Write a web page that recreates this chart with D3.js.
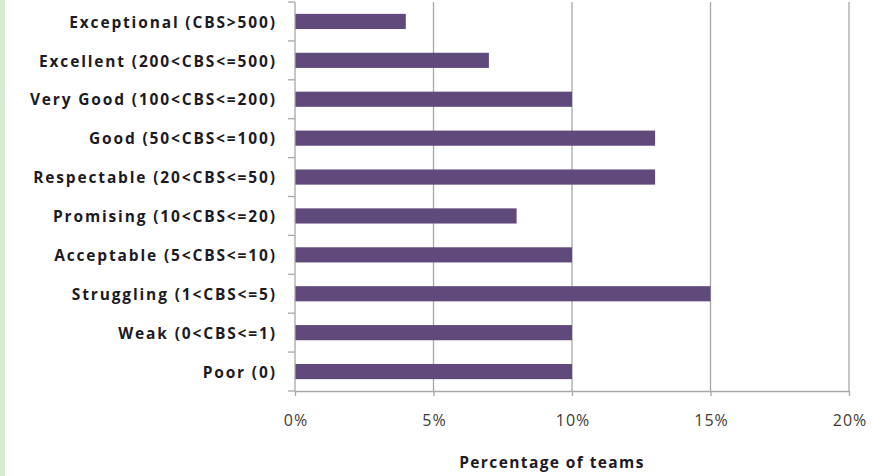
<!DOCTYPE html>
<html>
<head>
<meta charset="utf-8">
<script src="https://cdn.jsdelivr.net/npm/d3@7"></script>
<style>
  html, body { margin: 0; padding: 0; background: #ffffff; }
  svg { display: block; }
</style>
</head>
<body>
<svg id="chart" width="872" height="476"></svg>
<script>
// Team ratings by CBS band, top to bottom
const categories = [
  "Exceptional (CBS>500)",
  "Excellent (200<CBS<=500)",
  "Very Good (100<CBS<=200)",
  "Good (50<CBS<=100)",
  "Respectable (20<CBS<=50)",
  "Promising (10<CBS<=20)",
  "Acceptable (5<CBS<=10)",
  "Struggling (1<CBS<=5)",
  "Weak (0<CBS<=1)",
  "Poor (0)"
];
// Share of teams in each band, percent
const shares = [4, 7, 10, 13, 13, 8, 10, 15, 10, 10];
const tickValues = [0, 5, 10, 15, 20];
const axisTitle = "Percentage of teams";

const svg = d3.select("#chart");
const W = 872, H = 476;
const plotLeft = 295, plotRight = 849, plotTop = 2, plotBottom = 391;

// pale green strip along the left edge
svg.append("rect").attr("x", 0).attr("y", 0).attr("width", 5).attr("height", H)
  .attr("fill", "#d7ead2");

const x = d3.scaleLinear().domain([0, 20]).range([plotLeft, plotRight]);
const y = d3.scaleBand().domain(categories).range([plotTop, plotBottom]).paddingInner(0.61).paddingOuter(0.305);

const gridColor = "#a8a8a8";
const labelFont = "'Open Sans', sans-serif";

// vertical gridlines
svg.append("g").selectAll("line").data(tickValues.slice(1)).join("line")
  .attr("x1", d => x(d)).attr("x2", d => x(d))
  .attr("y1", plotTop).attr("y2", plotBottom)
  .attr("stroke", gridColor).attr("stroke-width", 1.3);

// bars
svg.append("g").selectAll("rect").data(categories).join("rect")
  .attr("x", x(0))
  .attr("y", d => y(d))
  .attr("width", (d, i) => x(shares[i]) - x(0))
  .attr("height", y.bandwidth())
  .attr("fill", "#5f4a7b");

// bottom axis
const xAxis = d3.axisBottom(x).tickValues(tickValues).tickFormat(d => d + "%")
  .tickSizeInner(5).tickSizeOuter(0).tickPadding(18.5);
const gx = svg.append("g").attr("transform", `translate(0,${plotBottom})`).call(xAxis);
gx.select(".domain").attr("stroke", gridColor).attr("stroke-width", 1.3);
gx.selectAll(".tick line").attr("stroke", gridColor).attr("stroke-width", 1.3);
gx.selectAll(".tick text")
  .attr("fill", "#3f3a36")
  .attr("dx", "0.5px")
  .style("font-family", labelFont)
  .style("font-size", "16px")
  .style("letter-spacing", "1px");

// left axis with ticks between categories
const step = y.step();
const boundaries = d3.range(categories.length + 1).map(i => plotTop + i * step);
const gy = svg.append("g");
gy.append("line").attr("x1", plotLeft).attr("x2", plotLeft).attr("y1", plotTop).attr("y2", plotBottom)
  .attr("stroke", gridColor).attr("stroke-width", 1.3);
gy.selectAll("line.tk").data(boundaries).join("line").attr("class", "tk")
  .attr("x1", plotLeft - 7).attr("x2", plotLeft)
  .attr("y1", d => d).attr("y2", d => d)
  .attr("stroke", gridColor).attr("stroke-width", 1.3);
gy.selectAll("text").data(categories).join("text")
  .attr("x", 276.8)
  .attr("y", d => y(d) + y.bandwidth() / 2)
  .attr("dy", "0.4em")
  .attr("text-anchor", "end")
  .attr("fill", "#1c1a24")
  .style("font-family", labelFont)
  .style("font-weight", "bold")
  .style("font-size", "15.5px")
  .style("letter-spacing", "1.85px")
  .text(d => d);

// axis title
svg.append("text")
  .attr("x", 552).attr("y", 467.7)
  .attr("text-anchor", "middle")
  .attr("fill", "#1c1a24")
  .style("font-family", labelFont)
  .style("font-weight", "bold")
  .style("font-size", "15.5px")
  .style("letter-spacing", "1.4px")
  .text(axisTitle);
</script>
</body>
</html>
